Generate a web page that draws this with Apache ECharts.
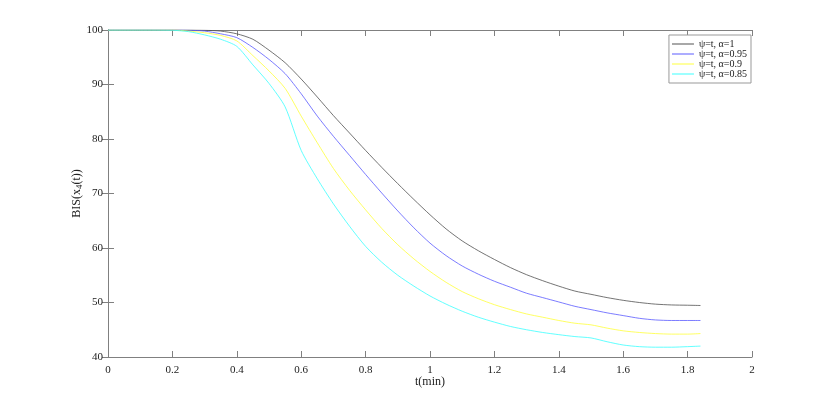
<!DOCTYPE html>
<html>
<head>
<meta charset="utf-8">
<script src="https://cdn.jsdelivr.net/npm/echarts@6/dist/echarts.min.js"></script>
<style>html,body{margin:0;padding:0;background:#fff;}#c{width:830px;height:401px;}</style>
</head>
<body>
<div id="c"></div>
<script>
var tValues = [0, 0.1, 0.2, 0.25, 0.3, 0.35, 0.4, 0.45, 0.5, 0.55, 0.6, 0.65, 0.7, 0.75, 0.8, 0.85, 0.9, 0.95, 1.0, 1.05, 1.1, 1.15, 1.2, 1.25, 1.3, 1.35, 1.4, 1.45, 1.5, 1.55, 1.6, 1.65, 1.7, 1.75, 1.8, 1.84];
var alpha100 = [100, 100, 100, 100, 99.95, 99.8, 99.3, 98.3, 96.3, 94.0, 91.0, 87.7, 84.3, 81.1, 77.9, 74.8, 71.8, 68.9, 66.1, 63.5, 61.3, 59.5, 57.9, 56.4, 55.1, 54.0, 53.0, 52.1, 51.5, 50.9, 50.4, 50.0, 49.7, 49.55, 49.5, 49.45];
var alpha095 = [100, 100, 100, 99.95, 99.8, 99.3, 98.6, 96.8, 94.6, 92.0, 88.3, 84.2, 80.5, 77.0, 73.5, 70.1, 66.8, 63.7, 60.9, 58.6, 56.7, 55.2, 53.9, 52.8, 51.7, 50.9, 50.1, 49.3, 48.7, 48.1, 47.6, 47.1, 46.8, 46.7, 46.7, 46.7];
var alpha090 = [100, 100, 100, 99.8, 99.5, 99.0, 98.0, 95.3, 92.5, 89.3, 84.2, 79.3, 74.6, 70.6, 67.0, 63.6, 60.6, 58.0, 55.7, 53.7, 52.0, 50.7, 49.6, 48.7, 47.9, 47.3, 46.7, 46.2, 45.9, 45.3, 44.8, 44.5, 44.3, 44.2, 44.2, 44.3];
var alpha085 = [100, 100, 99.95, 99.7, 99.1, 98.3, 97.0, 93.6, 90.2, 85.9, 77.9, 72.7, 68.1, 64.0, 60.3, 57.4, 55.0, 53.0, 51.2, 49.7, 48.4, 47.3, 46.4, 45.6, 45.0, 44.5, 44.1, 43.75, 43.5, 42.8, 42.2, 41.9, 41.8, 41.8, 41.9, 42.0];
var seriesNames = ['\u03c8=t, \u03b1=1', '\u03c8=t, \u03b1=0.95', '\u03c8=t, \u03b1=0.9', '\u03c8=t, \u03b1=0.85'];
var seriesColors = ['#505050', '#5a5aff', '#ffff3a', '#3affff'];
var seriesValues = [alpha100, alpha095, alpha090, alpha085];

function pairs(vals) { return tValues.map(function (t, i) { return [t, vals[i]]; }); }

var font = 'Liberation Serif';
var axisColor = '#808080';
var chart = echarts.init(document.getElementById('c'), null, { renderer: 'canvas' });
var baseX = {
  type: 'value', min: 0, max: 2, interval: 0.2,
  splitLine: { show: false },
  axisLine: { show: true, lineStyle: { color: axisColor, width: 1 } },
  axisTick: { show: true, inside: true, length: 6, lineStyle: { color: axisColor } }
};
var baseY = {
  type: 'value', min: 40, max: 100, interval: 10,
  splitLine: { show: false },
  axisLine: { show: true, lineStyle: { color: axisColor, width: 1 } },
  axisTick: { show: true, inside: true, length: 6, lineStyle: { color: axisColor } }
};
chart.setOption({
  animation: false,
  backgroundColor: '#fff',
  grid: { left: 108, right: 78, top: 30, bottom: 44, containLabel: false },
  legend: {
    orient: 'vertical', right: 79, top: 35,
    backgroundColor: '#fff', borderColor: '#999', borderWidth: 1,
    padding: [4, 4, 4, 3], itemGap: 0, itemWidth: 22, itemHeight: 1,
    icon: 'rect',
    textStyle: { fontFamily: font, fontSize: 10, color: '#222', lineHeight: 9.5 },
    data: seriesNames
  },
  xAxis: [
    Object.assign({}, baseX, {
      position: 'bottom',
      name: 't(min)', nameLocation: 'middle', nameGap: 19, nameMoveOverlap: false,
      nameTextStyle: { fontFamily: font, fontSize: 12, color: '#222' },
      axisLabel: { fontFamily: font, fontSize: 11, color: '#222', margin: 8,
        formatter: function (v) { return String(+v.toFixed(1)); } }
    }),
    Object.assign({}, baseX, { position: 'top', axisLabel: { show: false } })
  ],
  yAxis: [
    Object.assign({}, baseY, {
      position: 'left',
      name: 'BIS(x{s|4}(t))', nameLocation: 'middle', nameGap: 24, nameRotate: 90, nameMoveOverlap: false,
      nameTextStyle: { fontFamily: font, fontSize: 12, color: '#222',
        rich: { s: { fontFamily: font, fontSize: 9, color: '#222', padding: [6, 0, 0, 0] } } },
      axisLabel: { fontFamily: font, fontSize: 11, color: '#222', margin: 5 }
    }),
    Object.assign({}, baseY, { position: 'right', axisLabel: { show: false } })
  ],
  series: seriesNames.map(function (n, i) {
    return {
      name: n, type: 'line', xAxisIndex: 0, yAxisIndex: 0,
      data: pairs(seriesValues[i]), symbol: 'none', smooth: 0.25,
      lineStyle: { color: seriesColors[i], width: 0.8 },
      itemStyle: { color: seriesColors[i] }
    };
  })
});
</script>
</body>
</html>
